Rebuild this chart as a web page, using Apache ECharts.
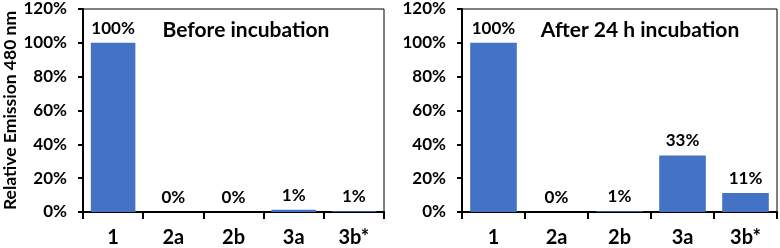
<!DOCTYPE html>
<html>
<head>
<meta charset="utf-8">
<script src="https://cdn.jsdelivr.net/npm/echarts@6/dist/echarts.min.js"></script>
<style>
  html, body { margin: 0; padding: 0; background: #fff; }
  #chart { width: 780px; height: 248px; }
</style>
</head>
<body>
<div id="chart"></div>
<script>
// 数据
var categories = ['1', '2a', '2b', '3a', '3b*'];
var beforeValues = [100, 0, 0, 1.3, 0.5];
var afterValues = [100, 0, 0.5, 33.4, 11.3];
var titles = ['Before incubation', 'After 24 h incubation'];
var yName = 'Relative Emission 480 nm';

var FONT = 'Lato';
var BLUE = '#4472C4';

function xAxisFor(idx) {
    return {
        type: 'category',
        gridIndex: idx,
        data: categories,
        axisLine: { lineStyle: { color: '#000', width: 2 } },
        axisTick: { show: true, length: 7, lineStyle: { color: '#000', width: 2 } },
        axisLabel: { color: '#000', fontFamily: FONT, fontWeight: 'bold', fontSize: 20, margin: 16 }
    };
}

function yAxisFor(idx) {
    return {
        type: 'value',
        gridIndex: idx,
        min: 0,
        max: 120,
        interval: 20,
        name: idx === 0 ? yName : '',
        nameLocation: 'middle',
        nameGap: 64,
        nameTextStyle: { color: '#000', fontFamily: FONT, fontWeight: 'bold', fontSize: 17.5 },
        splitLine: { show: false },
        axisLine: { show: true, lineStyle: { color: '#000', width: 2 } },
        axisTick: { show: true, length: 5, lineStyle: { color: '#000', width: 2 } },
        axisLabel: {
            color: '#000', fontFamily: FONT, fontWeight: 'bold', fontSize: 17, margin: 16,
            formatter: function (v) { return v + '%'; }
        }
    };
}

function barSeries(idx, vals) {
    return {
        type: 'bar',
        xAxisIndex: idx,
        yAxisIndex: idx,
        data: vals,
        barWidth: '74%',
        itemStyle: { color: BLUE },
        label: {
            show: true,
            position: 'top',
            distance: 6,
            color: '#000',
            fontFamily: FONT,
            fontWeight: 'bold',
            fontSize: 17,
            formatter: function (p) { return Math.round(p.value) + '%'; }
        }
    };
}

var myChart = echarts.init(document.getElementById('chart'), null, { renderer: 'canvas' });
myChart.setOption({
    animation: false,
    grid: [
        { left: 79, right: 396, top: 9, bottom: 36, show: true, borderColor: '#000', borderWidth: 1 },
        { left: 462, right: 3, top: 9, bottom: 36, show: true, borderColor: '#000', borderWidth: 1 }
    ],
    xAxis: [xAxisFor(0), xAxisFor(1)],
    yAxis: [yAxisFor(0), yAxisFor(1)],
    graphic: [
        { type: 'text', x: 246, y: 30, style: { text: titles[0], fill: '#000', font: 'bold 21px ' + FONT, textAlign: 'center', textVerticalAlign: 'middle' } },
        { type: 'text', x: 640, y: 30, style: { text: titles[1], fill: '#000', font: 'bold 21px ' + FONT, textAlign: 'center', textVerticalAlign: 'middle' } }
    ],
    series: [barSeries(0, beforeValues), barSeries(1, afterValues)]
});
</script>
</body>
</html>
